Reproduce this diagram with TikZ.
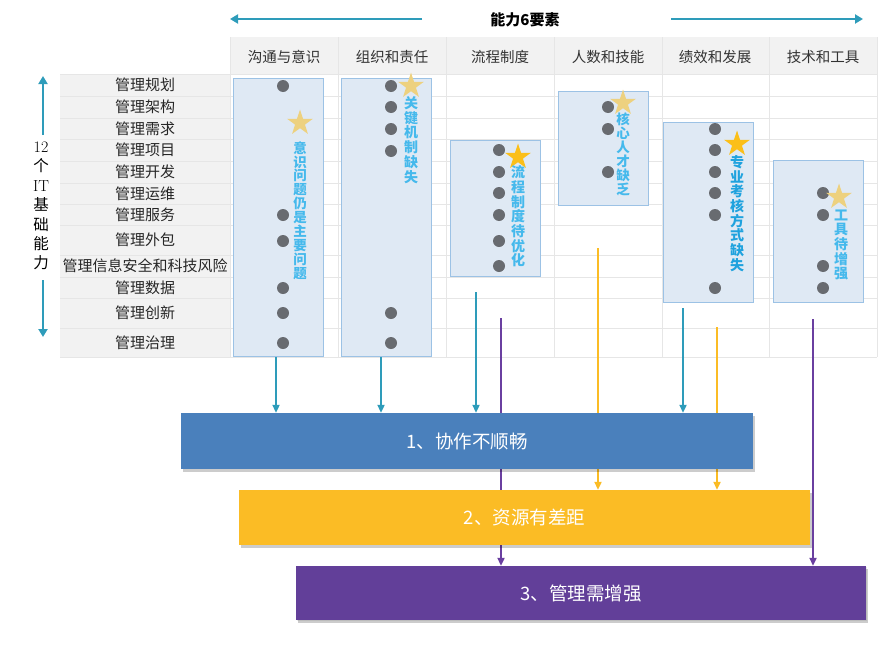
\documentclass[tikz,border=0pt]{standalone}
\usepackage{fontspec}
\newfontfamily\cjk{Noto Sans CJK SC}
\usetikzlibrary{shapes.geometric,arrows.meta,shadows}
\definecolor{tealc}{HTML}{2E9CBA}
\definecolor{hdrgray}{HTML}{F2F2F2}
\definecolor{gridgray}{HTML}{E6E6E6}
\definecolor{boxfill}{HTML}{DFE9F4}
\definecolor{boxborder}{HTML}{9CC2E5}
\definecolor{dotc}{HTML}{686B70}
\definecolor{vblue}{HTML}{45B9EC}
\definecolor{vblue2}{HTML}{1FA2DE}
\definecolor{palestar}{HTML}{EDD17F}
\definecolor{brightstar}{HTML}{FBBF19}
\definecolor{barblue}{HTML}{4A80BC}
\definecolor{baryellow}{HTML}{FBBC25}
\definecolor{barpurple}{HTML}{623F99}
\definecolor{linepurple}{HTML}{6A3FA0}
\tikzset{
 gridln/.style={draw=gridgray, line width=0.8pt},
 lbox/.style={draw=boxborder, fill=boxfill, line width=1pt, inner sep=0pt},
 vstar/.style={star, star points=5, star point ratio=2.6, minimum size=27pt, inner sep=0pt},
 vtext/.style={font=\cjk\bfseries\fontsize{14}{14.7}\selectfont, text=vblue, align=center, inner sep=0pt},
 rowlab/.style={font=\cjk\fontsize{15}{16}\selectfont, text=black!85, inner sep=0pt},
 hdrlab/.style={font=\cjk\fontsize{14.5}{16}\selectfont, text=black!80, inner sep=0pt},
 conn/.style={line width=2pt, -{Triangle[length=8pt,width=7pt]}},
 bigarr/.style={line width=2.6pt, draw=tealc, -{Triangle[length=8pt,width=9pt]}},
 bar/.style={minimum height=56pt, inner sep=0pt, font=\cjk\fontsize{18.5}{20}\selectfont, text=white,
   drop shadow={shadow xshift=2pt, shadow yshift=-3pt, fill=black, opacity=0.2}},
}
\begin{document}
\begin{tikzpicture}[x=1pt,y=-1pt]
\useasboundingbox (0,0) rectangle (890,645);
% table background
\fill[hdrgray] (230,37) rectangle (877,74);
\fill[hdrgray] (60,74) rectangle (230,357);
\foreach \yy in {74,96,118,139,161,183,204,225,255,277,298,328,357}
  \draw[gridln] (60,\yy) -- (877,\yy);
\foreach \xx in {230,338,446,554,662,769,877}
  \draw[gridln] (\xx,37) -- (\xx,357);
% headers
\node[hdrlab] (h1) at (284,57) {沟通与意识};
\node[hdrlab] (h2) at (392,57) {组织和责任};
\node[hdrlab] (h3) at (500,57) {流程制度};
\node[hdrlab] (h4) at (608,57) {人数和技能};
\node[hdrlab] (h5) at (715,57) {绩效和发展};
\node[hdrlab] (h6) at (823,57) {技术和工具};
% row labels
\node[rowlab] (r1) at (145,85) {管理规划};
\node[rowlab] (r2) at (145,107) {管理架构};
\node[rowlab] (r3) at (145,128.5) {管理需求};
\node[rowlab] (r4) at (145,150) {管理项目};
\node[rowlab] (r5) at (145,172) {管理开发};
\node[rowlab] (r6) at (145,193.5) {管理运维};
\node[rowlab] (r7) at (145,214.5) {管理服务};
\node[rowlab] (r8) at (145,240) {管理外包};
\node[rowlab] (r9) at (145,266) {管理信息安全和科技风险};
\node[rowlab] (r10) at (145,287.5) {管理数据};
\node[rowlab] (r11) at (145,313) {管理创新};
\node[rowlab] (r12) at (145,342.5) {管理治理};
% title and side
\node[font=\cjk\bfseries\fontsize{15}{17}\selectfont, inner sep=0pt] (ttl) at (525,20) {能力6要素};
\coordinate (la1) at (422,19); \coordinate (la2) at (230,19);
\coordinate (ra1) at (671,19); \coordinate (ra2) at (863,19);
\draw[bigarr] (la1) -- (la2);
\draw[bigarr] (ra1) -- (ra2);
\node[font=\cjk\fontsize{15.5}{19.4}\selectfont, align=center, inner sep=0pt] (lt) at (41,206)
  {{\normalfont\fontsize{16}{19.4}\selectfont 12}\\个\\{\normalfont\fontsize{16}{19.4}\selectfont IT}\\基\\础\\能\\力};
\coordinate (ua1) at (43,135); \coordinate (ua2) at (43,76);
\coordinate (da1) at (43,280); \coordinate (da2) at (43,337);
\draw[bigarr] (ua1) -- (ua2);
\draw[bigarr] (da1) -- (da2);
% blue boxes
\node[lbox, minimum width=90pt, minimum height=278pt] (b1) at (278,217) {};
\node[lbox, minimum width=90pt, minimum height=278pt] (b2) at (386,217) {};
\node[lbox, minimum width=90pt, minimum height=136pt] (b3) at (495,208) {};
\node[lbox, minimum width=90pt, minimum height=114pt] (b4) at (603,148) {};
\node[lbox, minimum width=90pt, minimum height=180pt] (b5) at (708,212) {};
\node[lbox, minimum width=90pt, minimum height=142pt] (b6) at (818,231) {};
% dots
\foreach \yy in {86,215,241,288,313,343} \fill[dotc] (283,\yy) circle (6pt);
\foreach \yy in {86,107,129,151,313,343} \fill[dotc] (391,\yy) circle (6pt);
\foreach \yy in {150,172,193,215,241,266} \fill[dotc] (499,\yy) circle (6pt);
\foreach \yy in {107,129,172} \fill[dotc] (608,\yy) circle (6pt);
\foreach \yy in {129,150,172,193,215,288} \fill[dotc] (715,\yy) circle (6pt);
\foreach \yy in {193,215,266,288} \fill[dotc] (823,\yy) circle (6pt);
% stars
\node[vstar, fill=palestar] (s1) at (300,123) {};
\node[vstar, fill=palestar] (s2) at (411,86) {};
\node[vstar, fill=brightstar] (s3) at (518,157) {};
\node[vstar, fill=palestar] (s4) at (623,103) {};
\node[vstar, fill=brightstar] (s5) at (737,144) {};
\node[vstar, fill=palestar] (s6) at (839,197) {};
% vertical texts
\node[vtext, font=\cjk\bfseries\fontsize{13.5}{13.9}\selectfont] (t1) at (300,210.5) {意\\识\\问\\题\\仍\\是\\主\\要\\问\\题};
\node[vtext] (t2) at (411,140) {关\\键\\机\\制\\缺\\失};
\node[vtext] (t3) at (518,216.5) {流\\程\\制\\度\\待\\优\\化};
\node[vtext, font=\cjk\bfseries\fontsize{13.5}{14}\selectfont] (t4) at (623,154.5) {核\\心\\人\\才\\缺\\乏};
\node[vtext, text=vblue2] (t5) at (737,213.5) {专\\业\\考\\核\\方\\式\\缺\\失};
\node[vtext] (t6) at (841,245) {工\\具\\待\\增\\强};
% connector ends and bar placeholders
\coordinate (c1) at (276,357);
\coordinate (c2) at (381,357);
\coordinate (c3) at (476,292);
\coordinate (c5) at (683,308);
\coordinate (p3) at (501,318);
\coordinate (p6) at (813,319);
\coordinate (y4) at (598,248);
\coordinate (y5) at (717,327);
\path (467,441) node[minimum width=572pt, minimum height=56pt, inner sep=0pt] (bar1) {};
\path (524.5,517.5) node[minimum width=571pt, minimum height=55pt, inner sep=0pt] (bar2) {};
\path (581,593) node[minimum width=570pt, minimum height=54pt, inner sep=0pt] (bar3) {};
\draw[conn, draw=tealc] (c1) -- (c1 |- bar1.north);
\draw[conn, draw=tealc] (c2) -- (c2 |- bar1.north);
\draw[conn, draw=tealc] (c3) -- (c3 |- bar1.north);
\draw[conn, draw=tealc] (c5) -- (c5 |- bar1.north);
\draw[conn, draw=baryellow] (y4) -- (y4 |- bar2.north);
\draw[conn, draw=baryellow] (y5) -- (y5 |- bar2.north);
\draw[conn, draw=linepurple] (p3) -- (p3 |- bar3.north);
\draw[conn, draw=linepurple] (p6) -- (p6 |- bar3.north);
% visible bars
\node[bar, fill=barblue, minimum width=572pt] (bar1v) at (bar1) {1、协作不顺畅};
\node[bar, fill=baryellow, minimum width=571pt, minimum height=55pt] (bar2v) at (bar2) {2、资源有差距};
\node[bar, fill=barpurple, minimum width=570pt, minimum height=54pt, drop shadow={shadow xshift=1pt, shadow yshift=-1pt, fill=black, opacity=0.08}] (bar3v) at (bar3) {3、管理需增强};
\end{tikzpicture}
\end{document}
